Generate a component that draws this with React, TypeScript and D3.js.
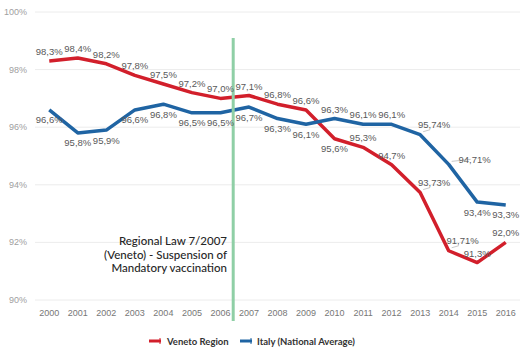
import React from "react";
import * as d3 from "d3";

const years = ["2000","2001","2002","2003","2004","2005","2006","2007","2008","2009","2010","2011","2012","2013","2014","2015","2016"];
const veneto = [98.3, 98.4, 98.2, 97.8, 97.5, 97.2, 97.0, 97.1, 96.8, 96.6, 95.6, 95.3, 94.7, 93.73, 91.71, 91.3, 92.0];
const venetoLabels = ["98,3%","98,4%","98,2%","97,8%","97,5%","97,2%","97,0%","97,1%","96,8%","96,6%","95,6%","95,3%","94,7%","93,73%","91,71%","91,3%","92,0%"];
const italy = [96.6, 95.8, 95.9, 96.6, 96.8, 96.5, 96.5, 96.7, 96.3, 96.1, 96.3, 96.1, 96.1, 95.74, 94.71, 93.4, 93.3];
const italyLabels = ["96,6%","95,8%","95,9%","96,6%","96,8%","96,5%","96,5%","96,7%","96,3%","96,1%","96,3%","96,1%","96,1%","95,74%","94,71%","93,4%","93,3%"];
const venetoPlace = ["a","a","a","a","a","a","a","a","a","a","b","a","a","ar","ar","a","a"];
const italyPlace = ["b","b","b","b","b","b","b","b","b","b","a","a","a","ar","r","b","b"];
const yTicks = [90, 92, 94, 96, 98, 100];
const seriesNames = ["Veneto Region", "Italy (National Average)"];
const annotation = ["Regional Law 7/2007", "(Veneto) - Suspension of", "Mandatory vaccination"];

const W = 532, H = 355;
const RED = "#d21f2b";
const BLUE = "#1f64a3";

export default function App() {
  const x = d3.scalePoint<string>().domain(years).range([35, 520]).padding(0.5);
  const y = d3.scaleLinear().domain([90, 100]).range([300, 12]);
  const line = d3.line<number>().x((_, i) => x(years[i])!).y(d => y(d));
  const labelFont = "'Liberation Sans', Arial, sans-serif";

  const offs: Record<string, [number, number]> = {
    a: [0, -6],
    b: [0, 13.5],
    ar: [14, -7],
    r: [26, -1],
  };

  const renderLabels = (vals: number[], labels: string[], place: string[], key: string) =>
    vals.map((v, i) => {
      const px = x(years[i])!, py = y(v);
      const [dx, dy] = offs[place[i]];
      const lead = place[i] === "ar" || place[i] === "r";
      return (
        <g key={key + i}>
          {lead && (
            <line x1={px + 3} y1={py - 3} x2={px + dx - 4} y2={py + dy + (place[i] === "r" ? -4 : 2)} stroke="#bbb" strokeWidth={0.8} />
          )}
          <text x={px + dx} y={py + dy} textAnchor="middle" fontSize={9.5} fill="#595959" fontFamily={labelFont}>
            {labels[i]}
          </text>
        </g>
      );
    });

  const greenX = (x("2006")! + x("2007")!) / 2 - 1.5;

  return (
    <svg width={W} height={H} style={{ position: "absolute", left: 0, top: 0, background: "#fff" }}>
      {yTicks.map(t => (
        <g key={t}>
          <line x1={35} x2={520} y1={y(t)} y2={y(t)} stroke="#ececec" strokeWidth={1} />
          <text x={27} y={y(t) + 3} textAnchor="end" fontSize={9} fill="#a0a0a0" fontFamily={labelFont}>{t}%</text>
        </g>
      ))}
      {years.map(yr => (
        <text key={yr} x={x(yr)!} y={316} textAnchor="middle" fontSize={9} fill="#777" fontFamily={labelFont}>{yr}</text>
      ))}
      <path d={line(veneto)!} fill="none" stroke={RED} strokeWidth={3.5} strokeLinejoin="round" />
      <path d={line(italy)!} fill="none" stroke={BLUE} strokeWidth={3.5} strokeLinejoin="round" />
      <line x1={greenX} x2={greenX} y1={38} y2={321} stroke="#8fcfa6" strokeWidth={3} />
      {renderLabels(veneto, venetoLabels, venetoPlace, "v")}
      {renderLabels(italy, italyLabels, italyPlace, "i")}
      {annotation.map((t, i) => (
        <text key={i} x={227} y={245 + i * 13.7} textAnchor="end" fontSize={11.5} fontWeight={500} fill="#262626" fontFamily="Lato, sans-serif">{t}</text>
      ))}
      <g fontFamily="Lato, sans-serif" fontSize={9.5} fontWeight={700} fill="#333">
        <line x1={149} x2={161} y1={341} y2={341} stroke={RED} strokeWidth={3} />
        <line x1={160} x2={160} y1={338} y2={344} stroke={RED} strokeWidth={1} />
        <text x={167} y={344.5}>{seriesNames[0]}</text>
        <line x1={240} x2={252} y1={341} y2={341} stroke={BLUE} strokeWidth={3} />
        <line x1={251} x2={251} y1={338} y2={344} stroke={BLUE} strokeWidth={1} />
        <text x={257} y={344.5}>{seriesNames[1]}</text>
      </g>
    </svg>
  );
}
